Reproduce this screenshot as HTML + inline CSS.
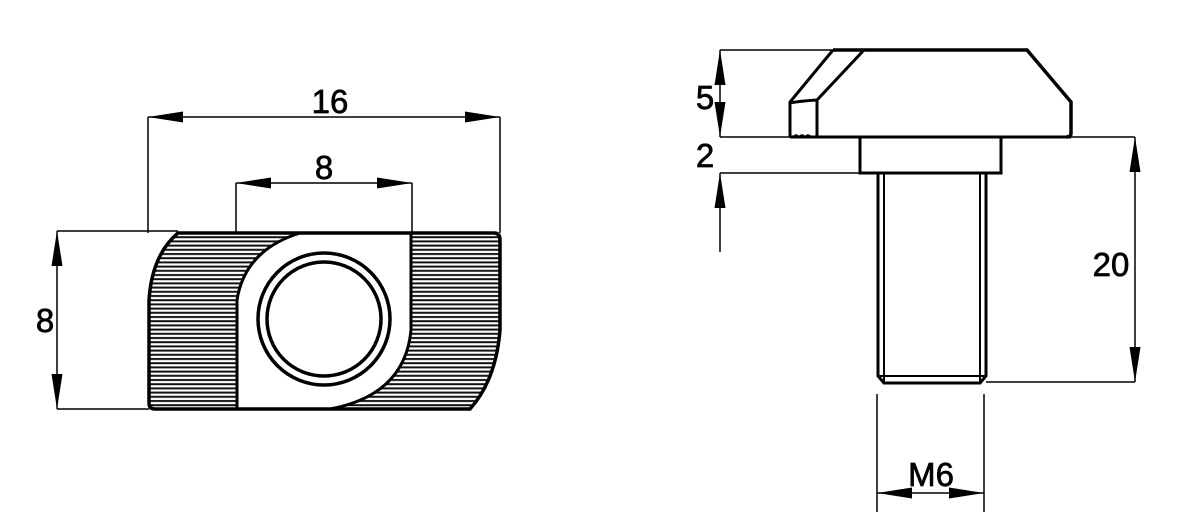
<!DOCTYPE html>
<html><head><style>
html,body{margin:0;padding:0;background:#fff;}
svg{display:block}
text{font-family:"Liberation Sans",sans-serif;font-size:33px;fill:#000;stroke:#000;stroke-width:0.7}
</style></head><body>
<svg width="1200" height="519" viewBox="0 0 1200 519" xmlns="http://www.w3.org/2000/svg">
<defs>
<pattern id="h" width="10" height="4.2" patternUnits="userSpaceOnUse">
<line x1="0" y1="2" x2="10" y2="2" stroke="#111" stroke-width="2"/>
</pattern>
<marker id="a" viewBox="0 0 35 12" refX="35" refY="6" markerWidth="35" markerHeight="12" markerUnits="userSpaceOnUse" orient="auto-start-reverse" preserveAspectRatio="none"><path d="M0,0.5 L35,6 L0,11.5z" fill="#000"/></marker>
</defs>

<g stroke="#000" fill="none">
<path d="M178,233 L300,233 Q245,250 237,300 L237,409 L155,409 Q149,409 149,403 L149,300 Q152,255 178,233Z" fill="url(#h)" stroke="none"/>
<path d="M411,233 L494,233 Q500,233 500,240 L500,330 Q496,380 470,409 L330,409 Q405,395 411,330Z" fill="url(#h)" stroke="none"/>
<path d="M178,233 L494,233 Q500,233 500,240 L500,330 Q496,380 470,409 L155,409 Q149,409 149,403 L149,300 Q152,255 178,233Z" stroke-width="3.5"/>
<path d="M300,233 Q245,250 237,300 L237,409" stroke-width="3"/>
<path d="M411,233 L411,330 Q405,395 330,409" stroke-width="3"/>
<circle cx="324" cy="319" r="66" stroke-width="3.5"/>
<circle cx="324" cy="319" r="57" stroke-width="3.5"/>
<g stroke-width="1.5">
<line x1="148" y1="117" x2="148" y2="233"/>
<line x1="500" y1="117" x2="500" y2="233"/>
<line x1="148" y1="117" x2="500" y2="117" marker-start="url(#a)" marker-end="url(#a)"/>
<line x1="236" y1="183" x2="236" y2="233"/>
<line x1="412" y1="183" x2="412" y2="233"/>
<line x1="236" y1="183" x2="412" y2="183" marker-start="url(#a)" marker-end="url(#a)"/>
<line x1="57" y1="231" x2="178" y2="231"/>
<line x1="57" y1="409" x2="149" y2="409"/>
<line x1="57" y1="231" x2="57" y2="409" marker-start="url(#a)" marker-end="url(#a)"/>
</g>
</g>
<text x="330" y="113" text-anchor="middle">16</text>
<text x="324" y="179" text-anchor="middle">8</text>
<text x="45" y="332" text-anchor="middle">8</text>

<g stroke="#000" fill="none">
<path d="M833,50 L1027,50 L1071,102 L1071,133 Q1071,137 1066,137" stroke-width="3.5"/>
<path d="M833,50 L790,102 L790,137 M864,50 L817,100 Q800,101 790,103 M817,100 L817,137" stroke-width="3"/>
<path d="M790,137 L932,137 M997,137 L1071,137" stroke-width="3"/>
<path d="M793,137 q3,-4 6,0 q3,-4 6,0 q3,-4 6,0" stroke-width="1.5"/>
<rect x="860" y="137" width="141" height="36" stroke-width="3"/>
<path d="M878,173 L878,376 L884,383 L980,383 L986,376 L986,173" stroke-width="3"/>
<path d="M884,173 L884,383 M980,173 L980,383 M878,376 L986,376" stroke-width="2"/>
<g stroke-width="1.5">
<line x1="720" y1="50" x2="833" y2="50"/>
<line x1="720" y1="137" x2="1135" y2="137"/>
<line x1="720" y1="173" x2="860" y2="173"/>
<line x1="720" y1="50" x2="720" y2="137" marker-start="url(#a)" marker-end="url(#a)"/>
<line x1="720" y1="252" x2="720" y2="173" marker-end="url(#a)"/>
<line x1="986" y1="382" x2="1135" y2="382"/>
<line x1="1135" y1="137" x2="1135" y2="382" marker-start="url(#a)" marker-end="url(#a)"/>
<line x1="877" y1="394" x2="877" y2="512"/>
<line x1="984" y1="394" x2="984" y2="512"/>
<line x1="877" y1="493" x2="984" y2="493" marker-start="url(#a)" marker-end="url(#a)"/>
</g>
</g>
<text x="705" y="109" text-anchor="middle">5</text>
<text x="705" y="167" text-anchor="middle">2</text>
<text x="1111" y="276" text-anchor="middle">20</text>
<text x="931" y="486" text-anchor="middle">M6</text>
</svg>
</body></html>
